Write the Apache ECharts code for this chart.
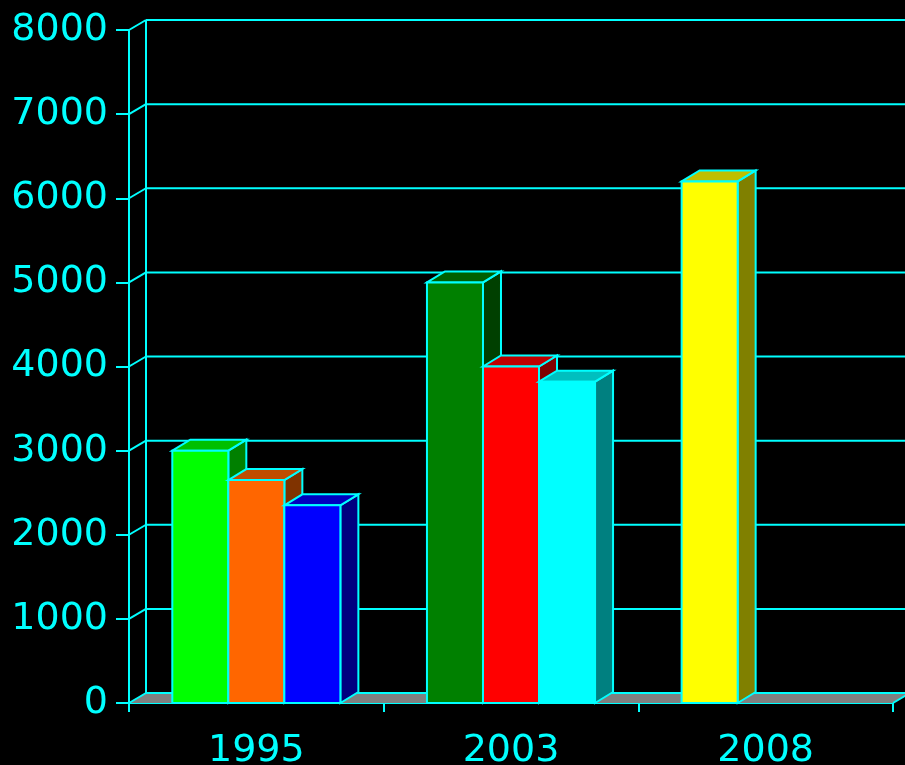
<!DOCTYPE html>
<html>
<head>
<meta charset="utf-8">
<script src="https://cdn.jsdelivr.net/npm/echarts@6/dist/echarts.min.js"></script>
<style>html,body{margin:0;padding:0;background:#000;}#c{width:905px;height:765px;}</style>
</head>
<body>
<div id="c"></div>
<script>
const categories = ['1995', '2003', '2008'];
const series1 = [3000, 5000, 6200];
const series2 = [2650, 4000, null];
const series3 = [2350, 3820, null];
const yTicks = [0, 1000, 2000, 3000, 4000, 5000, 6000, 7000, 8000];

const barColors = [
  ['#00ff00', '#008000', '#ffff00'],
  ['#ff6600', '#ff0000', null],
  ['#0000ff', '#00ffff', null]
];
const CYAN = '#00ffff';
const FRAME_DX = 17, FRAME_DY = 10;
const BAR_DX = 18, BAR_DY = 11;

function shade(hex, f) {
  const n = parseInt(hex.slice(1), 16);
  const r = Math.round(((n >> 16) & 255) * f), g = Math.round(((n >> 8) & 255) * f), b = Math.round((n & 255) * f);
  return 'rgb(' + r + ',' + g + ',' + b + ')';
}

function barRenderer(slotIndex) {
  return function (params, api) {
    const cat = api.value(0), v = api.value(1);
    if (v == null || isNaN(v)) return;
    const top = api.coord([cat, v]);
    const base = api.coord([cat, 0]);
    const band = api.size([1, 0])[0];
    const slot = band * 0.22;
    const x0 = top[0] - 1.5 * slot + slotIndex * slot;
    const x1 = x0 + slot;
    const yT = top[1], yB = base[1];
    const col = barColors[slotIndex][cat];
    const st = { stroke: CYAN, lineWidth: 2, lineJoin: 'miter' };
    return {
      type: 'group',
      children: [
        { type: 'polygon', shape: { points: [[x1, yB], [x1 + BAR_DX, yB - BAR_DY], [x1 + BAR_DX, yT - BAR_DY], [x1, yT]] },
          style: Object.assign({ fill: shade(col, 0.5) }, st) },
        { type: 'polygon', shape: { points: [[x0, yT], [x0 + BAR_DX, yT - BAR_DY], [x1 + BAR_DX, yT - BAR_DY], [x1, yT]] },
          style: Object.assign({ fill: shade(col, 0.75) }, st) },
        { type: 'rect', shape: { x: x0, y: yT, width: slot, height: yB - yT },
          style: Object.assign({ fill: col }, st) }
      ]
    };
  };
}

const chart = echarts.init(document.getElementById('c'), null, { renderer: 'canvas' });
const option = {
  backgroundColor: '#000000',
  animation: false,
  grid: { left: 129, right: 12, top: 30, bottom: 62, containLabel: false, outerBoundsMode: 'none' },
  xAxis: {
    type: 'category',
    data: categories,
    boundaryGap: true,
    axisLine: { show: true, lineStyle: { color: CYAN, width: 2 } },
    axisTick: { show: true, length: 9, interval: 0, lineStyle: { color: CYAN, width: 2 } },
    axisLabel: { color: CYAN, fontSize: 38, fontFamily: 'DejaVu Sans', margin: 29 },
    splitLine: { show: false }
  },
  yAxis: {
    type: 'value',
    min: 0, max: 8000, interval: 1000,
    axisLine: { show: true, lineStyle: { color: CYAN, width: 2 } },
    axisTick: { show: true, length: 13, lineStyle: { color: CYAN, width: 2 } },
    axisLabel: { color: CYAN, fontSize: 38, fontFamily: 'DejaVu Sans', margin: 21, formatter: v => String(v) },
    splitLine: { show: false }
  },
  series: [
    {
      type: 'custom', name: 'floor', z: 1, silent: true,
      data: [[0, 0]],
      encode: { x: 0, y: 1 },
      renderItem: function (params, api) {
        const cs = params.coordSys;
        const yTop = api.coord([0, yTicks[yTicks.length - 1]])[1];
        const y0 = api.coord([0, 0])[1];
        const xL = cs.x, xR = cs.x + cs.width;
        return {
          type: 'group',
          children: [
            { type: 'polygon', shape: { points: [[xL, y0], [xL + FRAME_DX, y0 - FRAME_DY], [xR + FRAME_DX, y0 - FRAME_DY], [xR, y0]] },
              style: { fill: '#808080', stroke: null } },
            { type: 'line', shape: { x1: xR, y1: y0, x2: xR + FRAME_DX, y2: y0 - FRAME_DY }, style: { stroke: CYAN, lineWidth: 2 } },
            { type: 'line', shape: { x1: xL + FRAME_DX, y1: yTop - FRAME_DY, x2: xL + FRAME_DX, y2: y0 - FRAME_DY }, style: { stroke: CYAN, lineWidth: 2 } }
          ]
        };
      }
    },
    {
      type: 'custom', name: 'grid3d', z: 2, silent: true,
      data: yTicks.map(v => [0, v]),
      encode: { x: 0, y: 1 },
      renderItem: function (params, api) {
        const cs = params.coordSys;
        const y = api.coord([0, api.value(1)])[1];
        const xL = cs.x, xR = cs.x + cs.width;
        return {
          type: 'group',
          children: [
            { type: 'line', shape: { x1: xL, y1: y, x2: xL + FRAME_DX, y2: y - FRAME_DY }, style: { stroke: CYAN, lineWidth: 2 } },
            { type: 'line', shape: { x1: xL + FRAME_DX, y1: y - FRAME_DY, x2: xR + FRAME_DX, y2: y - FRAME_DY }, style: { stroke: CYAN, lineWidth: 2 } }
          ]
        };
      }
    },
    { type: 'custom', name: 's1', z: 3, data: series1.map((v, i) => [i, v]), encode: { x: 0, y: 1 }, renderItem: barRenderer(0) },
    { type: 'custom', name: 's2', z: 3, data: series2.map((v, i) => [i, v]), encode: { x: 0, y: 1 }, renderItem: barRenderer(1) },
    { type: 'custom', name: 's3', z: 3, data: series3.map((v, i) => [i, v]), encode: { x: 0, y: 1 }, renderItem: barRenderer(2) }
  ]
};
chart.setOption(option);
</script>
</body>
</html>
